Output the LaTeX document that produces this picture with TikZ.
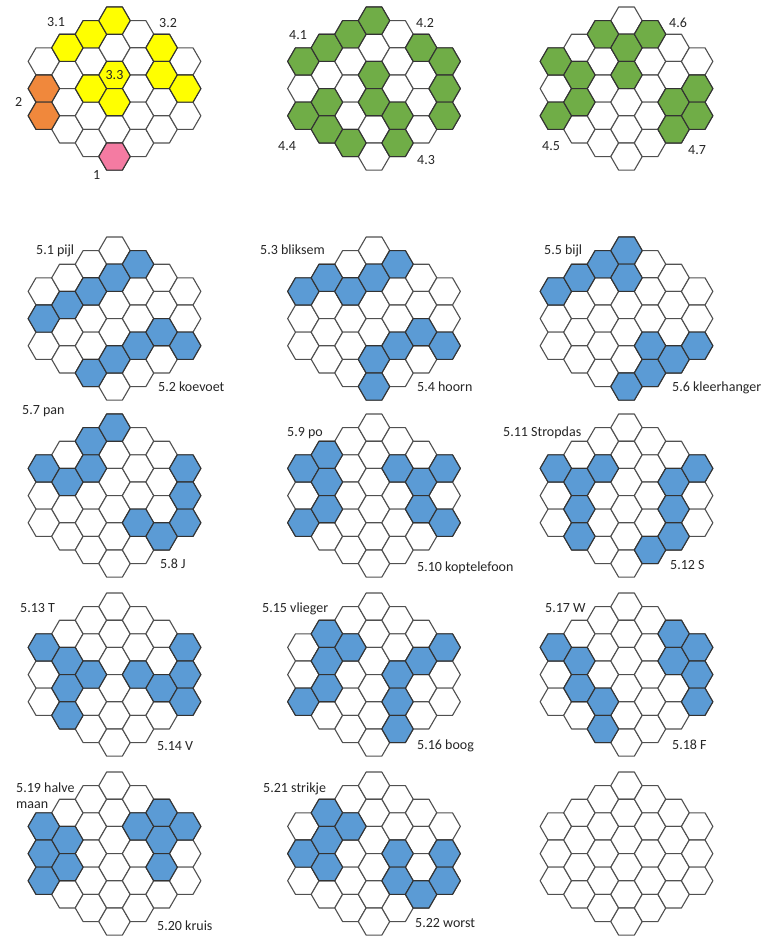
\documentclass[tikz,border=0pt]{standalone}
\usepackage{fontspec}
\setmainfont{Carlito}
\definecolor{hexline}{HTML}{505050}
\definecolor{hexdark}{HTML}{333333}
\definecolor{yel}{HTML}{FFFF00}
\definecolor{orng}{HTML}{F0883C}
\definecolor{pnk}{HTML}{F47BA2}
\definecolor{grn}{HTML}{70AD47}
\definecolor{blu}{HTML}{5B9BD5}
\definecolor{lbltext}{HTML}{262626}
\tikzset{
  hexcell/.style={draw=hexline, line width=1.1pt, line join=round, fill=white},
  hexfill/.style={draw=hexdark, line width=1.1pt, line join=round, fill=#1},
  lbl/.style={font=\fontsize{14}{16}\selectfont, inner sep=0pt, anchor=base west, text=lbltext},
}
\newcommand\hexR{15.7}
\newcommand\hexat[3]{% x, y, style
  \draw[#3] (#1,#2) +(0:\hexR) -- +(60:\hexR) -- +(120:\hexR) -- +(180:\hexR) -- +(240:\hexR) -- +(300:\hexR) -- cycle;}
\newcommand\hexgrid[2]{% cx, top
  \foreach \c/\n in {0/3,1/4,2/5,3/6,4/5,5/4,6/3}{%
    \foreach \j in {1,...,\n}{%
      \pgfmathsetmacro\hx{#1+(\c-3)*23.55}%
      \pgfmathsetmacro\hy{#2+13.6+abs(\c-3)*13.6+(\j-1)*27.19}%
      \hexat{\hx}{\hy}{hexcell}%
    }%
  }}
\newcommand\hexcolor[3]{% cx, top, list c/j/colour
  \foreach \c/\j/\f in {#3}{%
    \pgfmathsetmacro\hx{#1+(\c-3)*23.55}%
    \pgfmathsetmacro\hy{#2+13.6+abs(\c-3)*13.6+\j*27.19}%
    \hexat{\hx}{\hy}{hexfill=\f}%
  }}
\begin{document}
\begin{tikzpicture}[x=1pt,y=-1pt]
\useasboundingbox[fill=white] (0,0) rectangle (778,938);
% row 1
\hexgrid{114.5}{7}
\hexcolor{114.5}{7}{0/1/orng,0/2/orng,1/0/yel,2/0/yel,2/2/yel,3/0/yel,3/2/yel,3/3/yel,3/5/pnk,5/0/yel,5/1/yel,6/1/yel}
\hexgrid{374}{7}
\hexcolor{374}{7}{0/0/grn,0/2/grn,1/0/grn,1/2/grn,1/3/grn,2/0/grn,2/4/grn,3/0/grn,3/2/grn,3/3/grn,4/3/grn,4/4/grn,5/0/grn,6/0/grn,6/1/grn,6/2/grn}
\hexgrid{626.5}{7}
\hexcolor{626.5}{7}{0/0/grn,0/2/grn,1/1/grn,1/2/grn,2/0/grn,3/1/grn,3/2/grn,4/0/grn,5/2/grn,5/3/grn,6/1/grn,6/2/grn}
% row 2
\hexgrid{114.5}{237}
\hexcolor{114.5}{237}{0/1/blu,1/1/blu,2/1/blu,2/4/blu,3/1/blu,3/4/blu,4/0/blu,4/3/blu,5/2/blu,6/2/blu}
\hexgrid{374}{237}
\hexcolor{374}{237}{0/0/blu,1/0/blu,2/1/blu,3/1/blu,3/4/blu,3/5/blu,4/0/blu,4/3/blu,5/2/blu,6/2/blu}
\hexgrid{626.5}{237}
\hexcolor{626.5}{237}{0/0/blu,1/0/blu,2/0/blu,3/0/blu,3/1/blu,3/5/blu,4/3/blu,4/4/blu,5/3/blu,6/2/blu}
% row 3
\hexgrid{114.5}{414}
\hexcolor{114.5}{414}{0/0/blu,1/1/blu,2/0/blu,2/1/blu,3/0/blu,4/3/blu,5/3/blu,6/0/blu,6/1/blu,6/2/blu}
\hexgrid{374}{414}
\hexcolor{374}{414}{0/0/blu,0/2/blu,1/0/blu,1/1/blu,1/2/blu,4/1/blu,5/1/blu,5/2/blu,6/0/blu,6/2/blu}
\hexgrid{626.5}{414}
\hexcolor{626.5}{414}{0/0/blu,1/1/blu,1/2/blu,1/3/blu,2/1/blu,4/4/blu,5/1/blu,5/2/blu,5/3/blu,6/0/blu}
% row 4
\hexgrid{114.5}{593}
\hexcolor{114.5}{593}{0/0/blu,1/1/blu,1/2/blu,1/3/blu,2/2/blu,4/2/blu,5/2/blu,6/0/blu,6/1/blu,6/2/blu}
\hexgrid{374}{593}
\hexcolor{374}{593}{0/2/blu,1/0/blu,1/1/blu,1/2/blu,2/1/blu,4/2/blu,4/3/blu,4/4/blu,5/1/blu,6/0/blu}
\hexgrid{626.5}{593}
\hexcolor{626.5}{593}{0/0/blu,1/1/blu,1/2/blu,2/3/blu,2/4/blu,5/0/blu,5/1/blu,6/0/blu,6/1/blu,6/2/blu}
% row 5
\hexgrid{114.5}{772}
\hexcolor{114.5}{772}{0/0/blu,0/1/blu,0/2/blu,1/1/blu,1/2/blu,4/1/blu,5/0/blu,5/1/blu,5/2/blu,6/0/blu}
\hexgrid{374}{772}
\hexcolor{374}{772}{0/1/blu,1/0/blu,1/1/blu,1/2/blu,2/1/blu,4/2/blu,4/3/blu,5/3/blu,6/1/blu,6/2/blu}
\hexgrid{626.5}{772}
% labels
\node[lbl] (l31) at (47,26) {3.1};
\node[lbl] (l32) at (159,27) {3.2};
\node[lbl,anchor=base] (l33) at (114.5,79) {3.3};
\node[lbl] (l2) at (15,106) {2};
\node[lbl] (l1) at (93,179) {1};
\node[lbl] (l41) at (289,39) {4.1};
\node[lbl] (l42) at (416,27) {4.2};
\node[lbl] (l44) at (278,150) {4.4};
\node[lbl] (l43) at (417,164) {4.3};
\node[lbl] (l46) at (669,27) {4.6};
\node[lbl] (l45) at (542,150) {4.5};
\node[lbl] (l47) at (688,154) {4.7};
\node[lbl] (l51) at (36,254) {5.1 pijl};
\node[lbl] (l52) at (158,391) {5.2 koevoet};
\node[lbl] (l53) at (260,254) {5.3 bliksem};
\node[lbl] (l54) at (417,391) {5.4 hoorn};
\node[lbl] (l55) at (544,254) {5.5 bijl};
\node[lbl] (l56) at (672,391) {5.6 kleerhanger};
\node[lbl] (l57) at (22,414) {5.7 pan};
\node[lbl] (l58) at (160,568) {5.8 J};
\node[lbl] (l59) at (287,436) {5.9 po};
\node[lbl] (l510) at (417,571) {5.10 koptelefoon};
\node[lbl] (l511) at (503,436) {5.11 Stropdas};
\node[lbl] (l512) at (670,569) {5.12 S};
\node[lbl] (l513) at (20,612) {5.13 T};
\node[lbl] (l514) at (157,750) {5.14 V};
\node[lbl] (l515) at (262,612) {5.15 vlieger};
\node[lbl] (l516) at (417,749) {5.16 boog};
\node[lbl] (l517) at (545,612) {5.17 W};
\node[lbl] (l518) at (672,749) {5.18 F};
\node[lbl] (l519a) at (16,792) {5.19 halve};
\node[lbl] (l519b) at (16,808) {maan};
\node[lbl] (l520) at (157,930) {5.20 kruis};
\node[lbl] (l521) at (263,792) {5.21 strikje};
\node[lbl] (l522) at (415,927) {5.22 worst};
\end{tikzpicture}
\end{document}
